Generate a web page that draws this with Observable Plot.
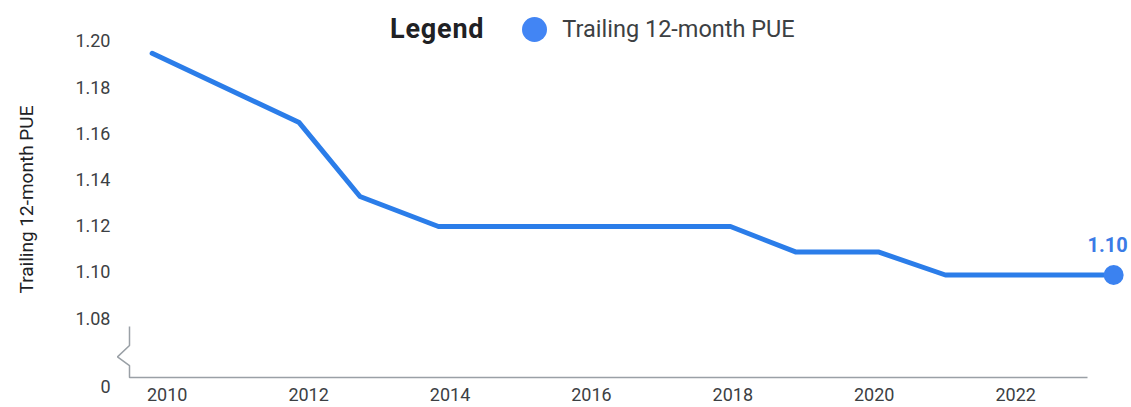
<!DOCTYPE html>
<html>
<head>
<meta charset="utf-8">
<script src="https://cdn.jsdelivr.net/npm/d3@7"></script>
<script src="https://cdn.jsdelivr.net/npm/@observablehq/plot@0.6"></script>
<style>
  html, body { margin: 0; padding: 0; background: #fff; }
  #wrap { position: relative; width: 1131px; height: 407px; overflow: hidden; font-family: Roboto, "Noto Sans", sans-serif; }
  #legend { position: absolute; top: 15px; left: 390px; height: 28px; display: flex; align-items: center; }
  #legend .title { font-size: 27px; font-weight: 700; color: #202124; letter-spacing: 0.8px; margin-right: 38px; }
  #legend .dot { width: 25px; height: 25px; border-radius: 50%; background: #4285f4; margin-right: 15px; }
  #legend .name { font-size: 23.5px; color: #3c4043; }
  #chart { position: absolute; left: 0; top: 0; }
</style>
</head>
<body>
<div id="wrap">
  <div id="chart"></div>
  <div id="legend"><span class="title">Legend</span><span class="dot"></span><span class="name">Trailing 12-month PUE</span></div>
</div>
<script>
// ---- data ----
const years = [2009.73, 2011.81, 2012.67, 2013.78, 2017.91, 2018.83, 2020.00, 2020.95, 2023.33];
const pue   = [1.195, 1.165, 1.133, 1.120, 1.120, 1.109, 1.109, 1.099, 1.099];
const xTicks = [2010, 2012, 2014, 2016, 2018, 2020, 2022];
const yTicks = [1.08, 1.10, 1.12, 1.14, 1.16, 1.18, 1.20];
const zeroTick = [0];
const yTitle = "Trailing 12-month PUE";

const data = years.map((year, i) => ({year, pue: pue[i]}));
const last = data[data.length - 1];

// axis extents
const xMin = 2009.41, xMax = 2022.96;
const zig = 0.17; // break zig offset in years
const breakLine = [
  {year: xMin, v: 0.94},
  {year: xMin, v: 0.59},
  {year: xMin - zig, v: 0.38},
  {year: xMin, v: 0.22},
  {year: xMin, v: 0},
  {year: xMax, v: 0}
];

const blue = "#2b7de9";

const chart = Plot.plot({
  width: 1131,
  height: 407,
  marginLeft: 129,
  marginRight: 44,
  marginTop: 21,
  marginBottom: 30,
  style: {fontFamily: "Roboto, sans-serif", fontSize: "18px", color: "#3c4043", background: "transparent"},
  x: {type: "linear", domain: [xMin, xMax]},
  y: {type: "linear", domain: [0, 1.08, 1.20], range: [377, 318.4, 41.2]},
  marks: [
    Plot.axisX({ticks: xTicks, tickFormat: "d", tickSize: 0, tickPadding: 11, dx: -4, label: null}),
    Plot.axisY({ticks: yTicks, tickFormat: d => d.toFixed(2), tickSize: 0, tickPadding: 19, label: null}),
    Plot.axisY({ticks: zeroTick, tickFormat: d => String(d), tickSize: 0, tickPadding: 19, dy: 10, label: null}),
    Plot.text([yTitle], {text: d => d, frameAnchor: "left", textAnchor: "middle", dx: -103, rotate: -90, fontSize: 19, fill: "#202124"}),
    Plot.line(breakLine, {x: "year", y: "v", stroke: "#9aa0a6", strokeWidth: 1.5, strokeLinejoin: "miter", strokeLinecap: "butt"}),
    Plot.line(data, {x: "year", y: "pue", stroke: blue, strokeWidth: 5}),
    Plot.dot([last], {x: "year", y: "pue", r: 10, fill: "#3b82f0"}),
    Plot.text([last], {x: "year", y: "pue", text: d => d.pue.toFixed(2), dy: -29, dx: -6, fontSize: 20, fontWeight: "bold", fill: "#3b7be6"})
  ]
});
document.getElementById("chart").appendChild(chart);
</script>
</body>
</html>
